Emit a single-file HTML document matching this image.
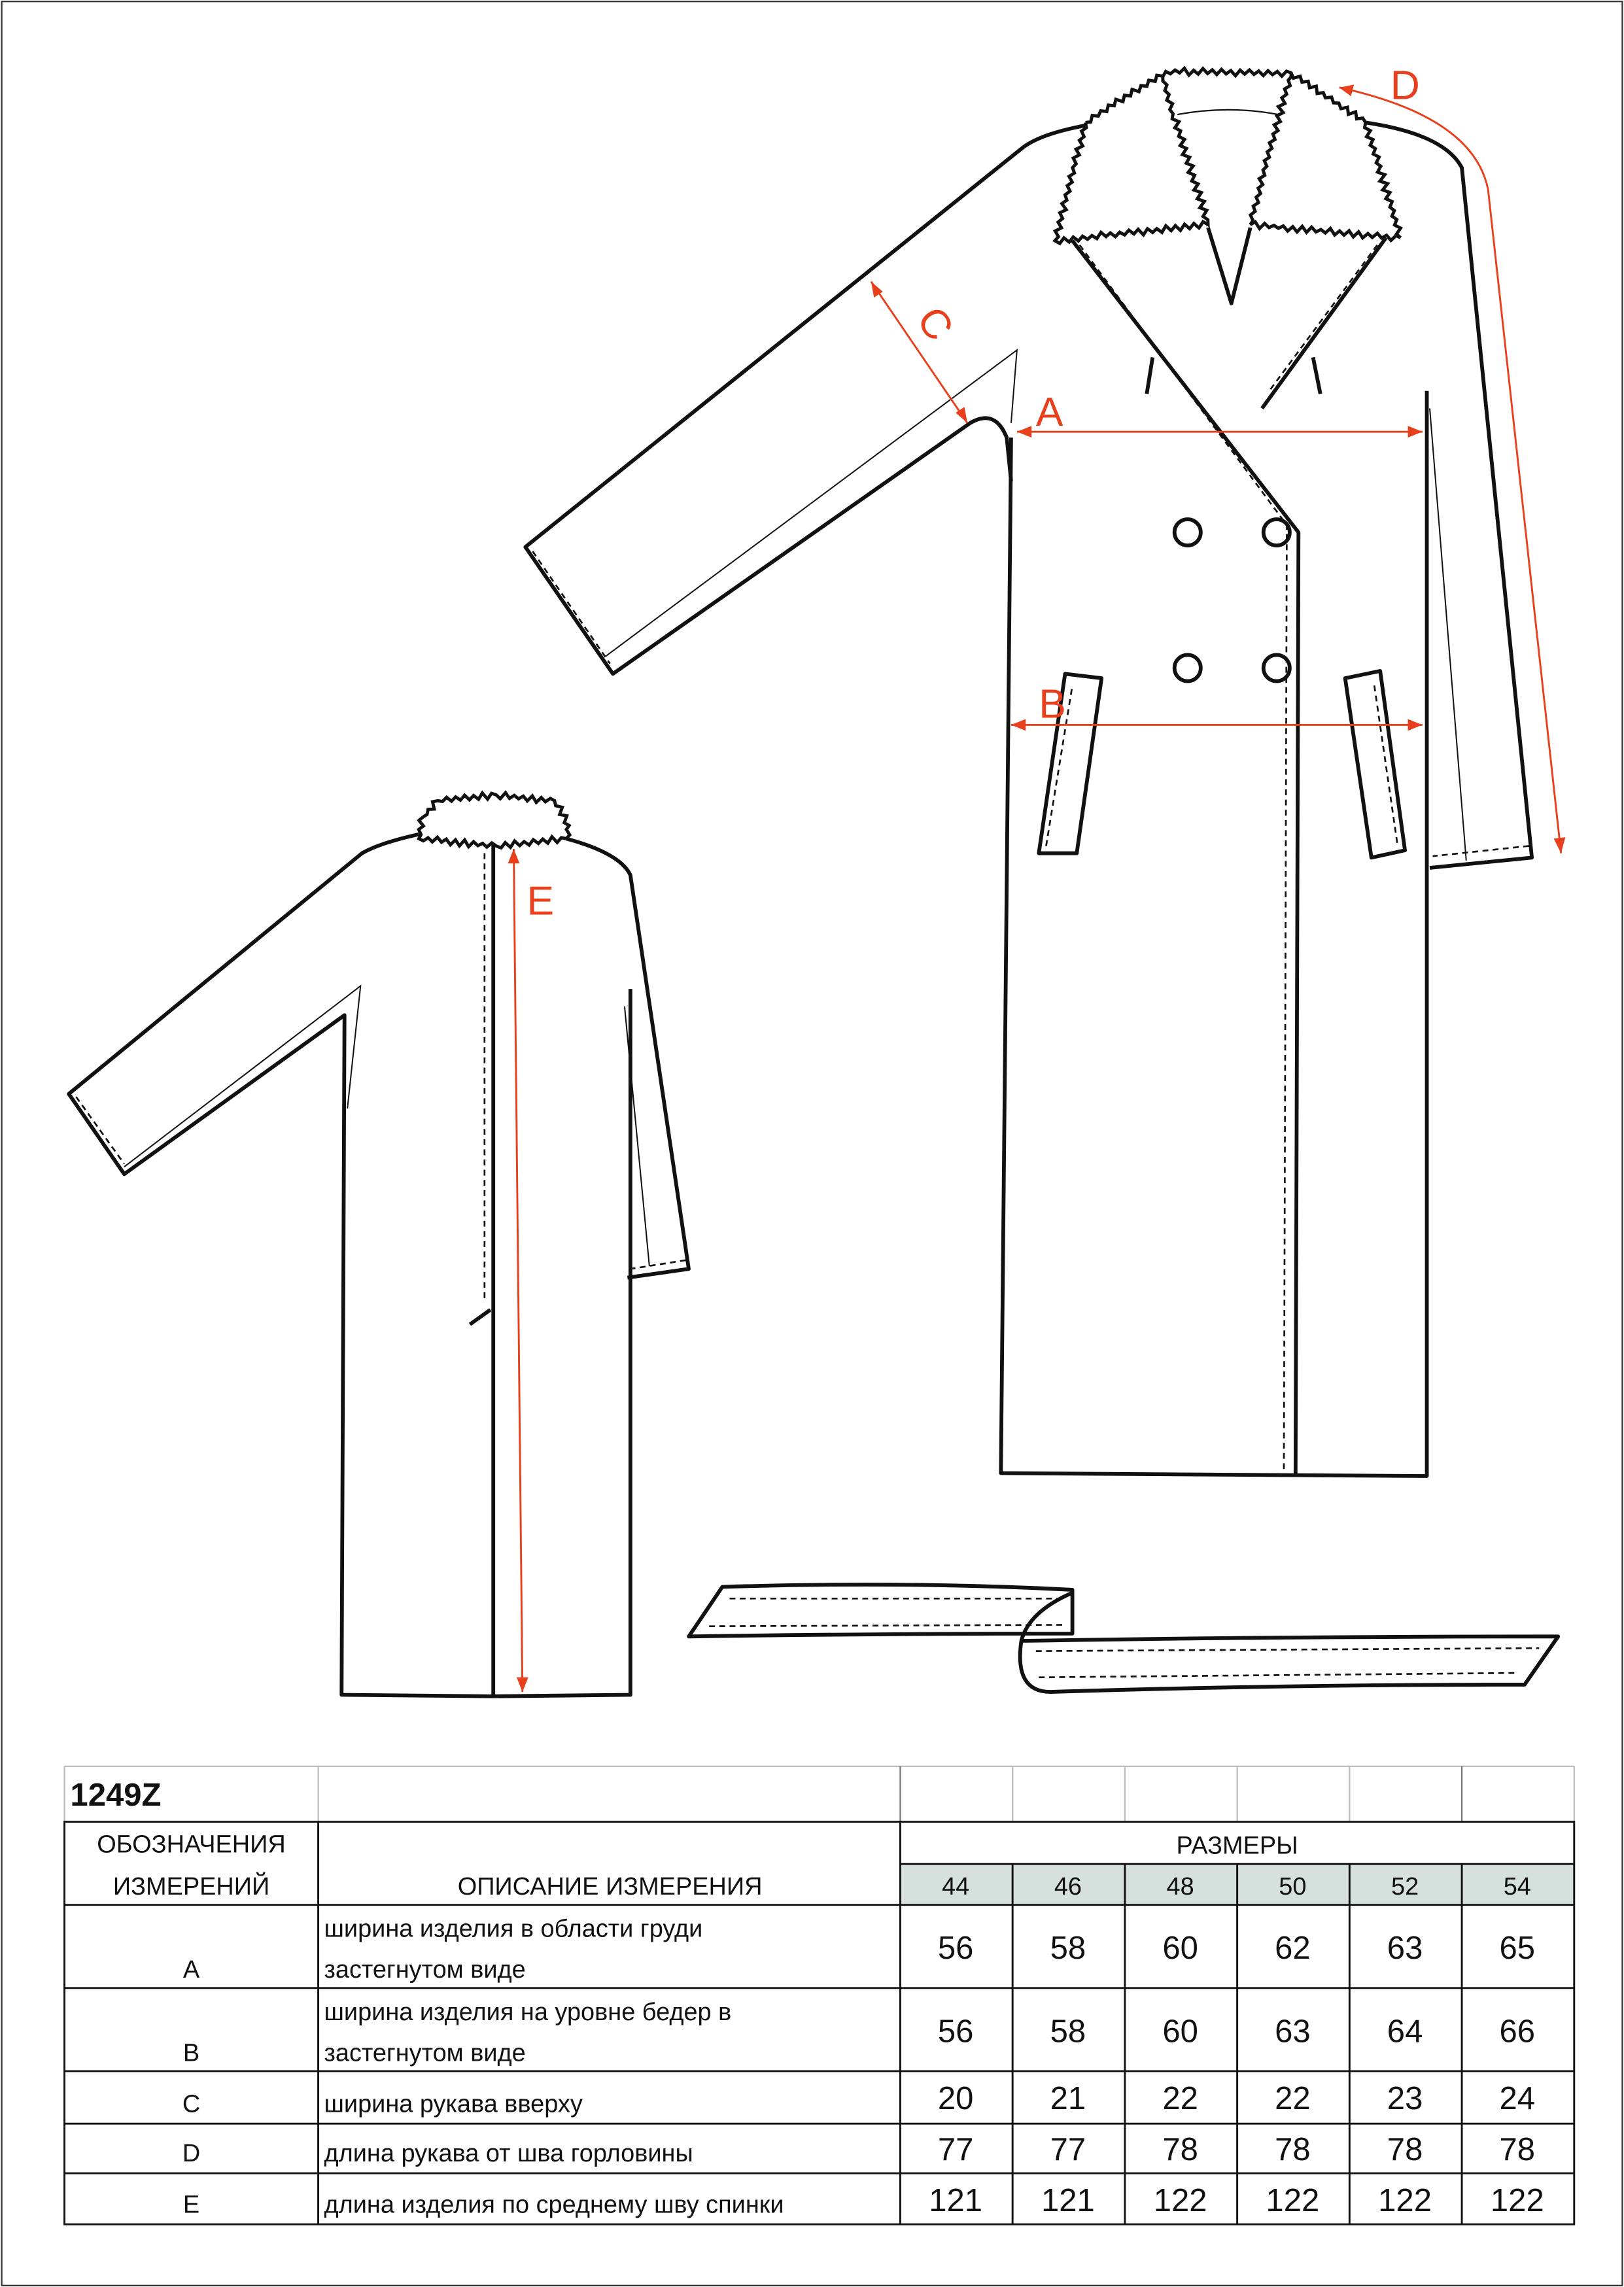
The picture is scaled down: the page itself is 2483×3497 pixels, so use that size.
<!DOCTYPE html>
<html><head><meta charset="utf-8"><style>
html,body{margin:0;padding:0;background:#fff}
svg{display:block}
text{font-family:"Liberation Sans",sans-serif}
</style></head><body>
<svg width="2483" height="3497" viewBox="0 0 1113 1568" xmlns="http://www.w3.org/2000/svg">
<rect x="1" y="1" width="1111" height="1566" fill="#fff" stroke="#333" stroke-width="1"/>
<g fill="none" stroke="#111" stroke-width="2.6" stroke-linejoin="round">
<!-- FRONT COAT -->
<path d="M693,300 L686,1010 L978,1012 L978,268"/>
<path d="M936,84 Q990,92 1002,115 L1050,588 L980,595"/>
<path d="M744,86 Q712,92 700,102 L360,375 L420,462 L665,290 Q682,280 690,300 L693,330"/>
<path d="M735,165 L890,365 L888,1012"/>
<path d="M950,163 L865,280"/>
<path d="M828,156 L844,208 L857,156"/>
<path d="M790,245 L786,270 M900,245 L905,270"/>
<circle cx="814" cy="365" r="9"/><circle cx="875" cy="365" r="9"/>
<circle cx="814" cy="458" r="9"/><circle cx="875" cy="458" r="9"/>
<path d="M730,462 L755,465 L738,585 L712,585 Z"/>
<path d="M922,465 L946,460 L963,583 L940,588 Z"/>
<path d="M807,78.5 Q842,72 876,78.5" stroke-width="1"/>
<!-- BACK COAT -->
<path d="M287,572 Q260,578 248,585 L47,750 L85,805 L236,696 L234,1162 L338,1163 L432,1162 L432,678"/>
<path d="M388,575 Q425,585 432,600 L472,870 L430,876"/>
<path d="M338,578 L338,1163"/>
<path d="M322,908 L336,898"/>
<!-- BELT -->
<path d="M495,1088 Q620,1084 735,1090 L735,1120 Q600,1120 472,1122 Z"/>
<path d="M735,1092 Q705,1105 700,1125 Q695,1160 720,1160 Q880,1155 1045,1155 L1068,1122 Q880,1122 700,1125"/>
</g>
<g id="fur" fill="none" stroke="#111" stroke-width="2.2" stroke-linejoin="miter"></g>
<g fill="none" stroke="#111" stroke-width="1.2" stroke-dasharray="4,3">
<path d="M740,168 L882,360 L880,1008"/>
<path d="M944,168 L870,268"/>
<path d="M365,378 L418,455"/>
<path d="M1048,580 L982,587"/>
<path d="M717,580 L735,470 M942,470 L958,580"/>
<path d="M332,585 L332,890"/>
<path d="M52,752 L85,798"/>
<path d="M470,864 L432,870"/>
<path d="M500,1096 L728,1096 M486,1115 L730,1114"/>
<path d="M710,1132 L1055,1130 M712,1150 L1040,1147"/>
</g>
<g fill="none" stroke="#111" stroke-width="0.9">
<path d="M415,450 L697,240 L693,290"/>
<path d="M980,280 L1005,590"/>
<path d="M85,800 L247,676 L238,760"/>
<path d="M428,690 L445,868"/>
</g>
<!-- MEASUREMENTS -->
<g fill="none" stroke="#e8401c" stroke-width="1.3">
<path d="M697,296 L975,296"/><path d="M693,497 L975,497"/>
<path d="M597,193 L663,290"/>
<path d="M918,60 Q1010,80 1020,130 L1070,585"/>
<path d="M352,582 L358,1160"/>
</g>
<g fill="#e8401c">
<path d="M697,296 l10,-4 l0,8z"/><path d="M975,296 l-10,-4 l0,8z"/>
<path d="M693,497 l10,-4 l0,8z"/><path d="M975,497 l-10,-4 l0,8z"/>
<path d="M597,193 l2,11 l6,-4z"/><path d="M663,290 l-2,-11 l-6,4z"/>
<path d="M918,60 l10,-2 l-2,8z"/><path d="M1070,585 l-5,-10 l8,-1z"/>
<path d="M352,582 l-4,10 l8,0z"/><path d="M358,1160 l-4,-10 l8,0z"/>
<text x="710" y="292" font-size="28">A</text>
<text x="712" y="492" font-size="28">B</text>
<text x="630" y="236" font-size="28" transform="rotate(55 645 225)">C</text>
<text x="953" y="68" font-size="28">D</text>
<text x="361" y="627" font-size="28">E</text>
</g>
<!-- TABLE -->
<g>
<rect x="617" y="1278" width="462" height="28" fill="#d6e0dd"/>
<g stroke="#bbb" stroke-width="1" fill="none">
<path d="M44,1211 L1079,1211 M44,1211 L44,1249 M218,1211 L218,1249 M1079,1211 L1079,1249"/>
<path d="M694,1211 L694,1249 M771,1211 L771,1249 M848,1211 L848,1249 M925,1211 L925,1249"/>
</g>
<g stroke="#777" stroke-width="1"><path d="M617,1211 L617,1249 M1002,1211 L1002,1249"/></g>
<g stroke="#111" stroke-width="1.3" fill="none">
<rect x="44" y="1249" width="1035" height="276"/>
<path d="M218,1249 L218,1525 M617,1249 L617,1525"/>
<path d="M617,1278 L1079,1278 M617,1306 L1079,1306"/>
<path d="M44,1306 L617,1306 M44,1363 L1079,1363 M44,1420 L1079,1420 M44,1456 L1079,1456 M44,1490 L1079,1490"/>
<path d="M694,1278 L694,1525 M771,1278 L771,1525 M848,1278 L848,1525 M925,1278 L925,1525 M1002,1278 L1002,1525"/>
</g>
<g fill="#111" font-size="17">
<text x="48" y="1238" font-size="22" font-weight="bold">1249Z</text>
<text x="131" y="1270" text-anchor="middle">ОБОЗНАЧЕНИЯ</text>
<text x="131" y="1299" text-anchor="middle">ИЗМЕРЕНИЙ</text>
<text x="418" y="1299" text-anchor="middle">ОПИСАНИЕ ИЗМЕРЕНИЯ</text>
<text x="848" y="1271" text-anchor="middle">РАЗМЕРЫ</text>
<g text-anchor="middle">
<text x="655" y="1299">44</text><text x="732" y="1299">46</text><text x="809" y="1299">48</text>
<text x="886" y="1299">50</text><text x="963" y="1299">52</text><text x="1040" y="1299">54</text>
<text x="131" y="1356">A</text><text x="131" y="1413">B</text><text x="131" y="1448">C</text>
<text x="131" y="1482">D</text><text x="131" y="1517">E</text>
</g>
<text x="222" y="1328">ширина изделия в области груди</text>
<text x="222" y="1356">застегнутом виде</text>
<text x="222" y="1385">ширина изделия  на уровне бедер в</text>
<text x="222" y="1413">застегнутом виде</text>
<text x="222" y="1448">ширина рукава вверху</text>
<text x="222" y="1482">длина рукава от шва горловины</text>
<text x="222" y="1517">длина изделия по среднему шву спинки</text>
<g text-anchor="middle" font-size="22">
<text x="655" y="1343">56</text><text x="732" y="1343">58</text><text x="809" y="1343">60</text><text x="886" y="1343">62</text><text x="963" y="1343">63</text><text x="1040" y="1343">65</text>
<text x="655" y="1400">56</text><text x="732" y="1400">58</text><text x="809" y="1400">60</text><text x="886" y="1400">63</text><text x="963" y="1400">64</text><text x="1040" y="1400">66</text>
<text x="655" y="1446">20</text><text x="732" y="1446">21</text><text x="809" y="1446">22</text><text x="886" y="1446">22</text><text x="963" y="1446">23</text><text x="1040" y="1446">24</text>
<text x="655" y="1481">77</text><text x="732" y="1481">77</text><text x="809" y="1481">78</text><text x="886" y="1481">78</text><text x="963" y="1481">78</text><text x="1040" y="1481">78</text>
<text x="655" y="1516">121</text><text x="732" y="1516">121</text><text x="809" y="1516">122</text><text x="886" y="1516">122</text><text x="963" y="1516">122</text><text x="1040" y="1516">122</text>
</g>
</g>
</g>
</svg>
<script>
(function(){
var seed=7;function rnd(){seed=(seed*9301+49297)%233280;return seed/233280;}
function jag(pts){
  var d='M'+pts[0][0]+','+pts[0][1];
  for(var i=1;i<pts.length;i++){
    var a=pts[i-1],b=pts[i],dx=b[0]-a[0],dy=b[1]-a[1],L=Math.sqrt(dx*dx+dy*dy);
    var n=Math.max(2,Math.round(L/3.2)),nx=-dy/L,ny=dx/L;
    for(var k=1;k<n;k++){
      var t=k/n,s=(k%2?1:-1)*(0.8+rnd()*1.6);
      d+=' L'+(a[0]+dx*t+nx*s).toFixed(1)+','+(a[1]+dy*t+ny*s).toFixed(1);
    }
    d+=' L'+b[0]+','+b[1];
  }
  return d;
}
var shapes=[
 [[744,84],[799,49],[885,50],[936,84],[960,163]],
 [[960,163],[857,154],[883,55],[885,50]],
 [[797,52],[804,78],[828,154],[723,165],[744,84]],
 [[290,560],[300,549],[340,545],[380,549],[390,566],[388,575],[340,580],[287,575],[290,560]]
];
var g=document.getElementById('fur'),ns='http://www.w3.org/2000/svg';
shapes.forEach(function(p){var e=document.createElementNS(ns,'path');e.setAttribute('d',jag(p));g.appendChild(e);});
})();
</script>
</body></html>
